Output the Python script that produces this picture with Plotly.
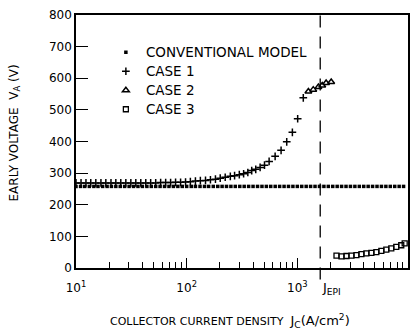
import plotly.graph_objects as go
import math

# ---------------- data ----------------
conv_J = [10, 11.0, 12.0, 13.2, 14.5, 15.8, 17.4, 19.1, 20.9, 22.9, 25.1, 27.5, 30.2, 33.1, 36.3,
          39.8, 43.7, 47.9, 52.5, 57.5, 63.1, 69.2, 75.9, 83.2, 91.2,
          100, 110, 120, 132, 145, 158, 174, 191, 209, 229, 251, 275, 302, 331, 363,
          398, 437, 479, 525, 575, 631, 692, 759, 832, 912,
          1000, 1096, 1202, 1318, 1445, 1585, 1738, 1905, 2089, 2291, 2512, 2754, 3020, 3311, 3631,
          3981, 4365, 4786, 5248, 5754, 6310, 6918, 7586, 8318, 9120]
conv_V = [258, 258, 258, 258, 258, 258, 258, 258, 258, 258, 258, 258, 258, 258, 258,
          258, 258, 258, 258, 258, 258, 258, 258, 258, 258,
          258, 258, 258, 258, 258, 258, 258, 258, 258, 258, 258, 258, 258, 258, 258,
          258, 258, 258, 258, 258, 258, 258, 258, 258, 258,
          258, 258, 258, 258, 258, 258, 258, 258, 258, 258, 258, 258, 258, 258, 258,
          258, 258, 258, 258, 258, 258, 258, 258, 258, 258]

case1_J = [10, 11.1, 12.3, 13.6, 15.1, 16.8, 18.6, 20.7, 22.9, 25.4, 28.2, 31.3, 34.7, 38.5,
           42.7, 47.3, 52.5, 58.2, 64.6, 71.6, 79.4, 88.1, 97.7, 108, 120, 133, 148, 164,
           182, 201, 223, 248, 271, 299, 327, 357, 387, 421, 461, 505, 556, 630, 713, 802,
           902, 1007, 1132]
case1_V = [269, 269, 269, 269, 269, 269, 269, 269, 269, 269, 269, 269, 269, 269,
           269, 269, 269, 270, 270, 270, 271, 271, 272, 273, 275, 276, 277, 279,
           281, 284, 287, 290, 292, 295, 298, 302, 308, 312, 318, 325, 337, 353, 372, 399,
           429, 472, 538]

case2_J = [1259, 1393, 1549, 1679, 1820, 2023]
case2_V = [558, 564, 572, 577, 585, 588]

case3_J = [2259, 2506, 2780, 3083, 3420, 3793, 4207, 4667, 5176, 5741, 6368, 7063, 7834, 8690, 9333]
case3_V = [39, 37, 38, 39, 41, 44, 46, 48, 50, 54, 58, 62, 67, 72, 78]

J_EPI = 1610

series_names = ["CONVENTIONAL MODEL", "CASE 1", "CASE 2", "CASE 3"]
x_tickvals = [10, 100, 1000, 10000]
x_ticktext = ["10<sup>1</sup>", "10<sup>2</sup>", "10<sup>3</sup>", "10<sup>4</sup>"]
x_minor = [m * d for d in (10, 100, 1000) for m in range(2, 10)]
y_tickvals = [0, 100, 200, 300, 400, 500, 600, 700, 800]

FONT = "DejaVu Sans"


def lg(name):
    return '<span style="font-size:13.5px">' + name + '</span>'


fig = go.Figure()
fig.add_trace(go.Scatter(x=conv_J, y=conv_V, mode="markers", name=lg(series_names[0]),
                         marker=dict(symbol="square", size=3.5, color="black", line=dict(width=0))))
fig.add_trace(go.Scatter(x=case1_J, y=case1_V, mode="markers", name=lg(series_names[1]),
                         marker=dict(symbol="cross-thin", size=5.5, color="black",
                                     line=dict(width=1.5, color="black"))))
fig.add_trace(go.Scatter(x=case2_J, y=case2_V, mode="markers", name=lg(series_names[2]),
                         marker=dict(symbol="triangle-up-open", size=6, color="black",
                                     line=dict(width=1.5, color="black"))))
fig.add_trace(go.Scatter(x=case3_J, y=case3_V, mode="markers", name=lg(series_names[3]),
                         marker=dict(symbol="square-open", size=5, color="black",
                                     line=dict(width=1.3, color="black"))))
# carrier for the minor-tick axis (no visible marks)
fig.add_trace(go.Scatter(x=[], y=[], xaxis="x2", yaxis="y", showlegend=False,
                         hoverinfo="skip", mode="markers"))

fig.add_shape(type="line", xref="x", yref="paper", x0=J_EPI, x1=J_EPI, y0=-0.045, y1=1,
              line=dict(color="black", width=1.3, dash="12px,9px"))

fig.add_annotation(x=math.log10(J_EPI), xref="x", y=0, yref="paper", yshift=-20,
                   text="J<sub>EPI</sub>", showarrow=False, xanchor="left", yanchor="middle",
                   font=dict(family=FONT, size=13, color="black"))
fig.add_annotation(x=0.464, xref="paper", y=0, yref="paper", yshift=-53,
                   text='COLLECTOR CURRENT DENSITY  <span style="font-size:13px">J<sub>C</sub>(A/cm<sup>2</sup>)</span>',
                   showarrow=False, xanchor="center", yanchor="middle",
                   font=dict(family=FONT, size=11, color="black"))
fig.add_annotation(x=0, xref="paper", xshift=-62, y=0.5, yref="paper", yshift=8,
                   text="EARLY VOLTAGE  V<sub>A</sub> (V)", textangle=-90,
                   showarrow=False, xanchor="center", yanchor="middle",
                   font=dict(family=FONT, size=12, color="black"))

fig.update_layout(
    width=418, height=336,
    margin=dict(l=76, r=8, t=10, b=68),
    paper_bgcolor="white", plot_bgcolor="white",
    font=dict(family=FONT, size=12, color="black"),
    showlegend=True,
    legend=dict(x=0.09, y=0.91, xanchor="left", yanchor="top",
                bgcolor="rgba(0,0,0,0)", borderwidth=0,
                font=dict(family=FONT, size=12, color="black")),
    xaxis=dict(type="log", range=[1, 4], showgrid=False, zeroline=False,
               showline=True, linecolor="black", linewidth=1.5, mirror=True,
               ticks="inside", ticklen=10, tickwidth=1.2, tickcolor="black",
               tickmode="array", tickvals=x_tickvals, ticktext=x_ticktext, ticklabelstandoff=8,
               tickfont=dict(family=FONT, size=12, color="black")),
    xaxis2=dict(type="log", range=[1, 4], overlaying="x", anchor="y", side="bottom",
                showgrid=False, zeroline=False, showline=False,
                ticks="inside", ticklen=6, tickwidth=1.2, tickcolor="black",
                tickmode="array", tickvals=x_minor, showticklabels=False),
    yaxis=dict(range=[0, 800], showgrid=False, zeroline=False,
               showline=True, linecolor="black", linewidth=1.5, mirror=True,
               ticks="inside", ticklen=12, tickwidth=1.2, tickcolor="black",
               tickmode="array", tickvals=y_tickvals,
               tickfont=dict(family=FONT, size=12, color="black")),
)

fig.write_html("out.html")
